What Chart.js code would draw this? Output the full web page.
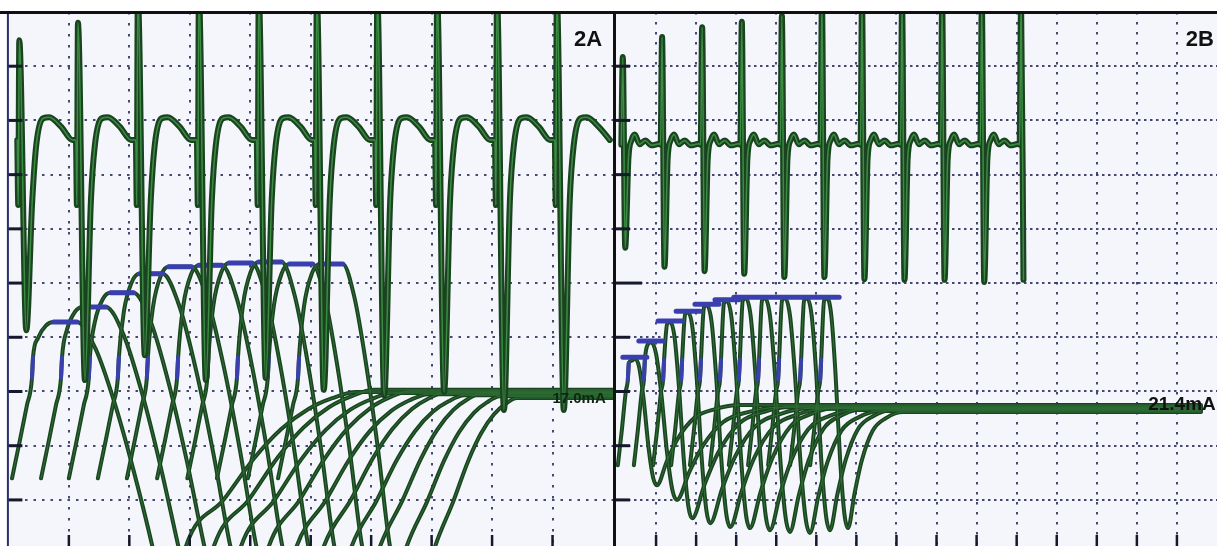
<!DOCTYPE html>
<html>
<head>
<meta charset="utf-8">
<script src="https://cdn.jsdelivr.net/npm/chart.js@4.4.0/dist/chart.umd.min.js"></script>
<style>
  html, body { margin: 0; padding: 0; background: #fff; overflow: hidden; }
  #wrap { position: relative; width: 1217px; height: 546px; }
  canvas { position: absolute; top: 0; }
  #chartA { left: 0; }
  #chartB { left: 613px; }
</style>
</head>
<body>
<div id="wrap">
  <canvas id="chartA" width="613" height="546"></canvas>
  <canvas id="chartB" width="604" height="546"></canvas>
</div>
<script>
// units: one grid division on both axes, y counted up from the bottom edge

// ---- 2A : ECG trace ----
const spikesA = [0.18, 1.15, 2.14, 3.15, 4.14, 5.10, 6.10, 7.09, 8.08, 9.07];
const peaksA = [9.48, 9.80, 10.3, 10.3, 10.3, 10.3, 10.3, 10.3, 10.3, 10.3];
const troughsA = [4.13, 3.21, 3.67, 3.21, 3.25, 3.03, 2.93, 2.99, 2.66, 2.66];
// one paced complex: [offset from spike, level]
const beatShapeA = [[-0.033, 7.64], [-0.017, 6.44], [0, 'peak'], [0.116, 'trough'], [0.215, 6.53],
  [0.281, 7.55], [0.397, 8.04], [0.496, 8.06], [0.695, 7.88], [0.877, 7.64]];

// ---- 2A : pacing current curves ----
const riseA = [0.39, 0.87, 1.33, 1.81, 2.29, 2.79, 3.29, 3.78, 4.29, 4.79];
const capA = [4.28, 4.56, 4.82, 5.17, 5.30, 5.33, 5.37, 5.39, 5.35, 5.35];
const fallA = [2.38, 2.81, 3.24, 3.67, 4.10, 4.53, 4.96, 5.39, 5.85, 6.31];
const lowA = [2.94, 3.40, 3.85, 4.31, 4.77, 5.22, 5.68, 6.15, 6.59, 7.06];
const joinA = [5.75, 6.05, 6.35, 6.64, 6.94, 7.24, 7.54, 7.83, 8.13, 8.41];
const restA = [2.99, 3.03, 2.97, 3.01, 2.95, 2.99, 2.93, 2.97, 2.91, 2.88];

// ---- 2B : ECG trace ----
const spikesB = [0.17, 1.15, 2.15, 3.14, 4.14, 5.14, 6.14, 7.14, 8.14, 9.13, 10.11];
const peaksB = [9.17, 9.54, 9.72, 9.82, 9.93, 10.2, 10.2, 10.2, 10.2, 10.2, 10.2];
const troughsB = [5.65, 5.30, 5.22, 5.17, 5.11, 5.11, 5.07, 5.06, 5.06, 5.02, 5.06];
const beatShapeB = [[-0.037, 7.55], [0, 'peak'], [0.06, 'trough'], [0.14, 7.30], [0.22, 7.64],
  [0.30, 7.74], [0.42, 7.56], [0.56, 7.63], [0.72, 7.54], [0.92, 7.57]];

// ---- 2B : pacing current curves ----
const peakB = [0.47, 0.87, 1.35, 1.80, 2.27, 2.77, 3.24, 3.72, 4.22, 4.77, 5.27];
const capB = [3.63, 3.93, 4.30, 4.48, 4.61, 4.69, 4.74, 4.74, 4.74, 4.74, 4.74];
const dipXB = [1.02, 1.52, 1.90, 2.35, 2.85, 3.34, 3.84, 4.34, 4.84, 5.34, 5.79];
const dipYB = [1.27, 1.00, 0.66, 0.57, 0.50, 0.48, 0.44, 0.41, 0.39, 0.44, 0.48];
const joinB = [3.10, 4.09, 4.47, 4.84, 5.22, 5.59, 5.97, 6.21, 6.59, 6.89, 7.16];
const restB = [2.75, 2.71, 2.73, 2.69, 2.68, 2.71, 2.66, 2.68, 2.64, 2.66, 2.62];

const gridA = [1, 2, 3, 4, 5, 6, 7, 8, 9];
const gridB = [1, 2, 3, 4, 5, 6, 7, 8, 9, 10, 11, 12, 13, 14];
const gridY = [1, 2, 3, 4, 5, 6, 7, 8, 9];

const DARK = '#1a4420';
const BLUE = '#3a3fae';

function beatTrace(spikes, peaks, troughs, shape, stopAtEnd) {
  const pts = [];
  spikes.forEach((s, i) => {
    const last = i === spikes.length - 1;
    for (const [dx, lvl] of shape) {
      const y = lvl === 'peak' ? peaks[i] : lvl === 'trough' ? troughs[i] : lvl;
      pts.push({ x: +(s + dx).toFixed(3), y });
      if (last && stopAtEnd && lvl === 'trough') break;
    }
  });
  return pts;
}

function curveA(i) {
  const r = riseA[i], c = capA[i], f = fallA[i], lo = lowA[i], j = joinA[i], b = restA[i];
  const ce = r + 0.74;
  const pts = [
    { x: r - 0.33, y: 1.40 }, { x: r - 0.2, y: 2.10 }, { x: r - 0.083, y: 2.75 },
    { x: r, y: 3.25 }, { x: r + 0.017, y: 3.63 },
    { x: r + 0.1, y: c - 0.45 * (c - 3.63) }, { x: r + 0.23, y: c - 0.1 * (c - 3.63) },
    { x: r + 0.36, y: c }, { x: ce, y: c }
  ];
  [[0.25, 0.12], [0.5, 0.36], [0.75, 0.66], [1, 1]].forEach(([t, k]) =>
    pts.push({ x: ce + t * (f - ce), y: c - k * (c - 0.15) }));
  pts.push({ x: (f + lo) / 2, y: -1.3 });
  [[0, 0], [0.22, 0.30], [0.40, 0.57], [0.56, 0.76], [0.72, 0.89], [0.86, 0.96], [1, 1]].forEach(([t, k]) =>
    pts.push({ x: lo + t * (j - lo), y: 0.15 + k * (b - 0.15) }));
  pts.push({ x: 10, y: b });
  return pts;
}

function curveB(i) {
  const p = peakB[i], c = capB[i], tx = dipXB[i], ty = dipYB[i], j = joinB[i], b = restB[i];
  const pts = [
    { x: p - 0.424, y: 1.64 }, { x: p - 0.324, y: 2.29 }, { x: p - 0.225, y: 3.0 },
    { x: p - 0.175, y: 3.21 }, { x: p - 0.15, y: Math.min(3.58, c - 0.1) },
    { x: p - 0.075, y: c - 0.06 }, { x: p, y: c - 0.02 }
  ];
  [[0.2, 0.08], [0.4, 0.33], [0.62, 0.7], [0.83, 0.94], [1, 1]].forEach(([t, k]) =>
    pts.push({ x: p + t * (tx - p), y: c - k * (c - ty) }));
  [[0.12, 0.3], [0.25, 0.58], [0.45, 0.84], [0.7, 0.95], [1, 1]].forEach(([t, k]) =>
    pts.push({ x: tx + t * (j - tx), y: ty + k * (b - ty) }));
  pts.push({ x: 14.6, y: b });
  return pts;
}

function line(data, color, width, order, smooth) {
  return {
    data, borderColor: color, borderWidth: width, pointRadius: 0, order,
    tension: smooth ? 0.4 : 0, cubicInterpolationMode: smooth ? 'monotone' : 'default',
    borderCapStyle: 'round', borderJoinStyle: 'round', clip: 0, fill: false
  };
}

// dark stroke with a lighter green core, like the monitor print
function traceSets(data, w, core, order) {
  return [line(data, core, Math.max(1, w / 4), order - 0.5, true), line(data, DARK, w, order, true)];
}

function segs(pairs) {
  const d = [];
  pairs.forEach(([a, b]) => { d.push(a, b, { x: b.x, y: null }); });
  return d;
}

const frame = {
  id: 'frame',
  beforeDraw(chart) {
    const { ctx, chartArea: a } = chart;
    ctx.save();
    ctx.fillStyle = '#f4f6fb';
    ctx.fillRect(a.left, a.top, a.right - a.left, a.bottom - a.top);
    ctx.restore();
  },
  afterDraw(chart, args, o) {
    const { ctx, chartArea: a, scales: { x, y } } = chart;
    ctx.save();
    ctx.strokeStyle = '#16182c';
    ctx.lineWidth = 3;
    o.left.forEach(v => {
      const py = y.getPixelForValue(v);
      const len = o.longTick === v ? 26 : 14;
      ctx.beginPath(); ctx.moveTo(a.left, py); ctx.lineTo(a.left + len, py); ctx.stroke();
    });
    ctx.lineWidth = 2.5;
    o.bottom.forEach(v => {
      const px = x.getPixelForValue(v);
      ctx.beginPath(); ctx.moveTo(px, a.bottom - 11); ctx.lineTo(px, a.bottom); ctx.stroke();
    });
    if (o.edge === 'left') {
      ctx.strokeStyle = '#2b2e6b'; ctx.lineWidth = 2;
      ctx.beginPath(); ctx.moveTo(a.left - 0.5, a.top); ctx.lineTo(a.left - 0.5, a.bottom); ctx.stroke();
    } else {
      ctx.strokeStyle = '#111'; ctx.lineWidth = 3;
      ctx.beginPath(); ctx.moveTo(1.5, a.top); ctx.lineTo(1.5, a.bottom); ctx.stroke();
    }
    ctx.strokeStyle = '#111'; ctx.lineWidth = 3;
    ctx.beginPath(); ctx.moveTo(0, a.top + 0.5); ctx.lineTo(chart.width, a.top + 0.5); ctx.stroke();
    ctx.textAlign = 'right'; ctx.textBaseline = 'alphabetic';
    o.labels.forEach(l => {
      ctx.font = l.font; ctx.fillStyle = l.color;
      ctx.fillText(l.text, x.getPixelForValue(l.x), y.getPixelForValue(l.y));
    });
    ctx.restore();
  }
};

function axes(xmax, xgrid, hdash, vdash) {
  const grid = { color: 'rgba(38,42,88,0.85)', lineWidth: 2, drawTicks: false };
  return {
    x: {
      type: 'linear', min: 0, max: xmax,
      afterBuildTicks: s => { s.ticks = xgrid.map(v => ({ value: v })); },
      ticks: { display: false }, grid, border: { display: false, dash: vdash }
    },
    y: {
      type: 'linear', min: 0.15, max: 10,
      afterBuildTicks: s => { s.ticks = gridY.map(v => ({ value: v })); },
      ticks: { display: false }, grid, border: { display: false, dash: hdash }
    }
  };
}

// ---- build 2A ----
const setsA = [];
setsA.push(...traceSets(beatTrace(spikesA, peaksA, troughsA, beatShapeA, false), 6, '#3c8c44', 1));
setsA.push(line(segs(riseA.map((r, i) => [{ x: r + 0.36, y: capA[i] }, { x: r + 0.74, y: capA[i] }])), BLUE, 5, 2, false));
setsA.push(line(segs(riseA.map(r => [{ x: r, y: 3.25 }, { x: r + 0.017, y: 3.63 }])), BLUE, 4, 2, false));
riseA.forEach((r, i) => setsA.push(...traceSets(curveA(i), 4, '#2f6f36', 4)));

new Chart(document.getElementById('chartA'), {
  type: 'line',
  data: { datasets: setsA },
  options: {
    responsive: false, animation: false, events: [],
    layout: { padding: { left: 8.4, top: 12, right: 0, bottom: 0 } },
    scales: axes(10, gridA, [2.5, 6], [2.5, 8.5]),
    plugins: {
      legend: { display: false }, tooltip: { enabled: false },
      frame: {
        left: gridY, bottom: gridA, edge: 'left', longTick: null,
        labels: [
          { text: '2A', x: 9.82, y: 9.37, font: 'bold 22px "Liberation Sans", Arial, sans-serif', color: '#111' },
          { text: '17.0mA', x: 9.88, y: 2.78, font: 'bold 15px "Liberation Sans", Arial, sans-serif', color: '#0f2612' }
        ]
      }
    }
  },
  plugins: [frame]
});

// ---- build 2B ----
const setsB = [];
setsB.push(...traceSets(beatTrace(spikesB, peaksB, troughsB, beatShapeB, true), 6, '#3c8c44', 1));
setsB.push(line(segs(peakB.map((p, i) => [{ x: p - 0.3, y: capB[i] }, { x: p + 0.3, y: capB[i] }])), BLUE, 5, 2, false));
setsB.push(line(segs(peakB.map((p, i) => [{ x: p - 0.175, y: 3.21 }, { x: p - 0.15, y: Math.min(3.58, capB[i] - 0.1) }])), BLUE, 4, 2, false));
peakB.forEach((p, i) => setsB.push(...traceSets(curveB(i), 4, '#2f6f36', 4)));

new Chart(document.getElementById('chartB'), {
  type: 'line',
  data: { datasets: setsB },
  options: {
    responsive: false, animation: false, events: [],
    layout: { padding: { left: 3, top: 12, right: 0, bottom: 0 } },
    scales: axes(15, gridB, [2.5, 3.5], [2.5, 7.5]),
    plugins: {
      legend: { display: false }, tooltip: { enabled: false },
      frame: {
        left: gridY, bottom: gridB, edge: 'divider', longTick: 5,
        labels: [
          { text: '2B', x: 14.92, y: 9.37, font: 'bold 22px "Liberation Sans", Arial, sans-serif', color: '#111' },
          { text: '21.4mA', x: 14.97, y: 2.66, font: 'bold 19px "Liberation Sans", Arial, sans-serif', color: '#111' }
        ]
      }
    }
  },
  plugins: [frame]
});
</script>
</body>
</html>
